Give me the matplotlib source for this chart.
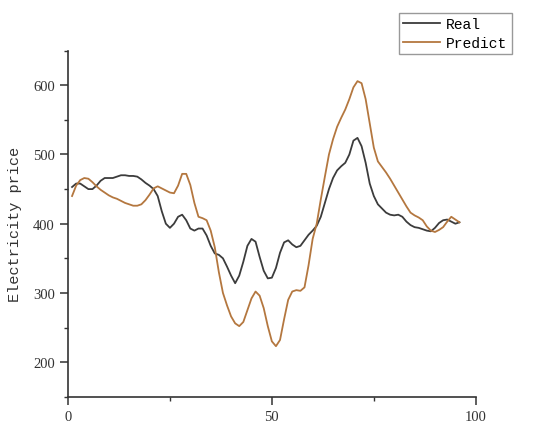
import numpy as np
import matplotlib.pyplot as plt
from matplotlib.ticker import MultipleLocator

x = np.arange(1, 97)

real = [453, 458, 458, 454, 450, 450, 455, 462, 466, 466,
        466, 468, 470, 470, 469, 469, 468, 464, 459, 455,
        450, 440, 418, 400, 394, 400, 410, 413, 405, 393,
        390, 393, 393, 383, 368, 357, 355, 350, 338, 325,
        314, 325, 345, 368, 378, 374, 352, 332, 321, 322,
        336, 358, 373, 376, 370, 366, 368, 376, 384, 390,
        397, 410, 430, 450, 466, 477, 483, 488, 500, 520,
        524, 512, 488, 458, 440, 428, 422, 416, 413, 412,
        413, 410, 403, 398, 395, 394, 392, 390, 389, 394,
        401, 405, 406, 403, 400, 402]

predict = [440, 455, 463, 466, 465, 460, 454, 449, 445, 441,
           438, 436, 433, 430, 428, 426, 426, 428, 434, 442,
           451, 454, 451, 448, 445, 444, 455, 472, 472, 456,
           430, 410, 408, 405, 390, 366, 330, 300, 282, 266,
           256, 252, 258, 275, 292, 302, 296, 278, 252, 230,
           223, 232, 262, 290, 302, 304, 303, 308, 340, 378,
           400, 435, 468, 500, 522, 540, 553, 565, 580, 597,
           606, 603, 580, 545, 510, 490, 482, 474, 465, 455,
           445, 435, 425, 416, 412, 409, 405, 396, 390, 388,
           391, 395, 403, 410, 406, 402]

fig = plt.figure(figsize=(5.5, 4.35), dpi=100)
ax = fig.add_axes([0.1236, 0.0857, 0.7414, 0.7955])

ax.plot(x, real, color='#3c3c3c', lw=1.3, label='Real')
ax.plot(x, predict, color='#b4773f', lw=1.3, label='Predict')

ax.set_xlim(0, 100)
ax.set_ylim(150, 650)
ax.xaxis.set_major_locator(MultipleLocator(50))
ax.xaxis.set_minor_locator(MultipleLocator(25))
ax.yaxis.set_major_locator(MultipleLocator(100))
ax.yaxis.set_minor_locator(MultipleLocator(50))
ax.set_yticks([200, 300, 400, 500, 600])

for s in ['top', 'right']:
    ax.spines[s].set_visible(False)
for s in ['left', 'bottom']:
    ax.spines[s].set_linewidth(1.2)
    ax.spines[s].set_color('#333333')

ax.tick_params(which='major', direction='out', length=6, width=1.1, colors='#333333', labelsize=10.5)
ax.tick_params(which='minor', direction='out', length=3, width=1.0, colors='#333333')
for lab in ax.get_xticklabels() + ax.get_yticklabels():
    lab.set_fontfamily('Liberation Serif')
    lab.set_color('#333333')

ax.set_ylabel('Electricity price', fontfamily='Liberation Mono', fontsize=11, color='#333333', labelpad=8)

fig.legend(loc='upper right', bbox_to_anchor=(512 / 550, 1 - 14 / 435),
           prop={'family': 'Liberation Mono', 'size': 10.5},
           fancybox=False, framealpha=1, edgecolor='#999999',
           handlelength=2.5, handletextpad=0.45, labelspacing=0.3, borderpad=0.3,
           borderaxespad=0)

fig.savefig('out.png', dpi=100)
